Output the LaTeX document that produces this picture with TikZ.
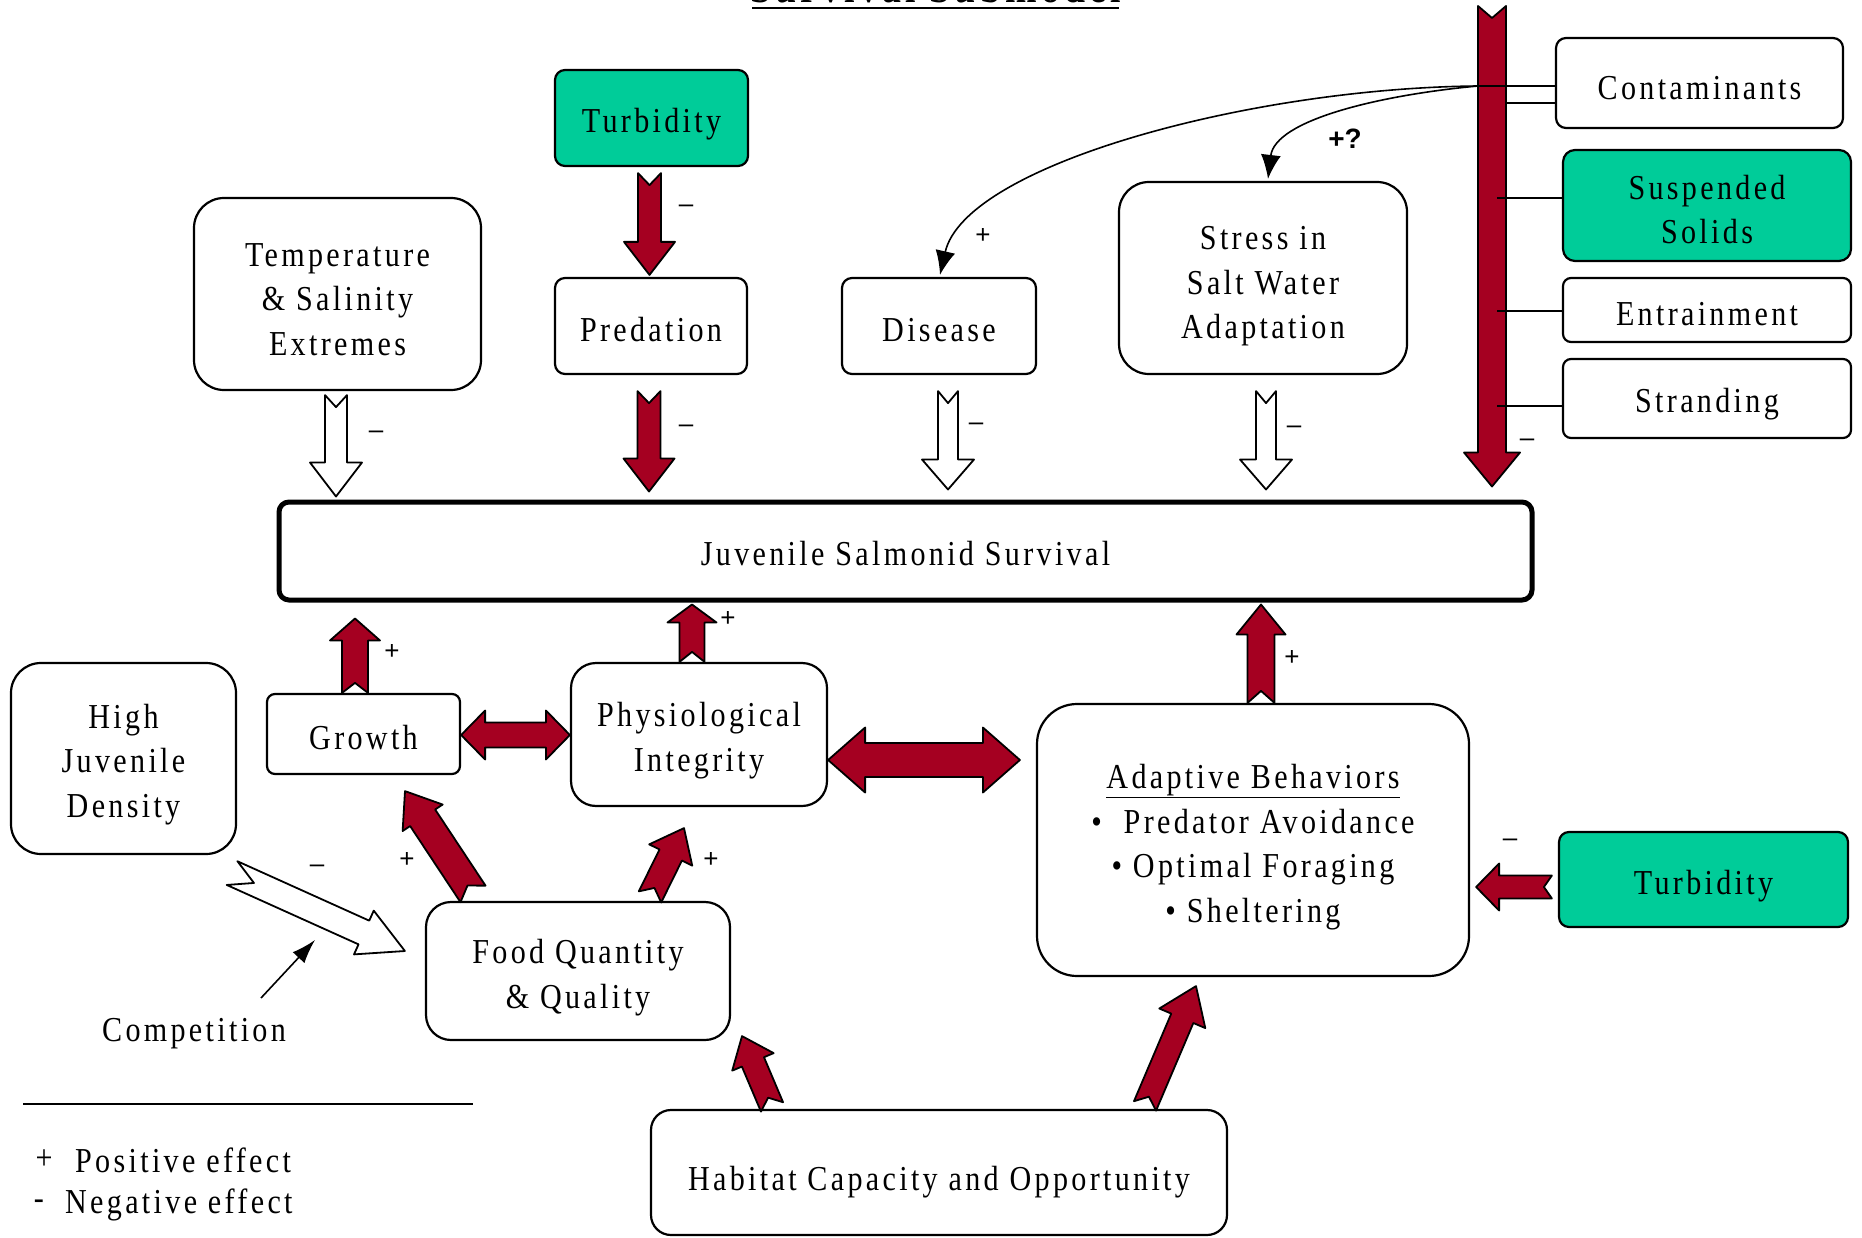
\documentclass[tikz,border=0pt]{standalone}
\usepackage{fontspec}
\setmainfont{Liberation Serif}[FakeStretch=0.86,LetterSpace=9.5]
\newfontfamily\signfont{Liberation Sans}
\usetikzlibrary{calc,arrows.meta}

\definecolor{arrowred}{RGB}{165,0,33}
\definecolor{tealgreen}{RGB}{0,204,153}

\newcommand\bxfont{\fontsize{35}{44.5}\selectfont}

% notched block arrow: style, tail, tip, half shaft, half head, head length, notch depth
\newcommand\blockarr[7]{%
  \coordinate (ba-a) at #2;
  \coordinate (ba-b) at #3;
  \coordinate (ba-h) at ($(ba-b)!#6pt!(ba-a)$);
  \draw[#1] ($(ba-a)!#4pt!90:(ba-b)$) -- ($(ba-h)!#4pt!-90:(ba-a)$)
    -- ($(ba-h)!#5pt!-90:(ba-a)$) -- (ba-b) -- ($(ba-h)!#5pt!90:(ba-a)$)
    -- ($(ba-h)!#4pt!90:(ba-a)$) -- ($(ba-a)!#4pt!-90:(ba-b)$)
    -- ($(ba-a)!#7pt!(ba-b)$) -- cycle;}

% two-headed block arrow: style, end, end, half shaft, half head, head length
\newcommand\dblarr[6]{%
  \coordinate (da-a) at #2;
  \coordinate (da-b) at #3;
  \coordinate (da-p) at ($(da-a)!#6pt!(da-b)$);
  \coordinate (da-q) at ($(da-b)!#6pt!(da-a)$);
  \draw[#1] (da-a) -- ($(da-p)!#5pt!90:(da-b)$) -- ($(da-p)!#4pt!90:(da-b)$)
    -- ($(da-q)!#4pt!-90:(da-a)$) -- ($(da-q)!#5pt!-90:(da-a)$) -- (da-b)
    -- ($(da-q)!#5pt!90:(da-a)$) -- ($(da-q)!#4pt!90:(da-a)$)
    -- ($(da-p)!#4pt!-90:(da-b)$) -- ($(da-p)!#5pt!-90:(da-b)$) -- cycle;}

\tikzset{
  cbox/.style={draw=black, line width=2.2pt, fill=white, rounded corners=#1,
    inner sep=0pt},
  cbox/.default=10pt,
  greenbox/.style={cbox=#1, fill=tealgreen},
  greenbox/.default=10pt,
  % box caption, set a little below the box centre
  boxtext/.style 2 args={label={[font=\bxfont, align=center, inner sep=0pt,
    yshift=-#1]center:#2}},
  redarr/.style={fill=arrowred, draw=black, line width=1.8pt, line join=round},
  whitearr/.style={fill=white, draw=black, line width=1.8pt, line join=round},
  sign/.style={font=\signfont\fontsize{26}{30}\selectfont, inner sep=0pt},
  plain/.style={font=\bxfont, inner sep=0pt},
  feed/.style={line width=1.6pt},
}

\begin{document}
\begin{tikzpicture}[x=1pt,y=-1pt]
\useasboundingbox (0,0) rectangle (1862,1238);

% heading (runs off the top edge)
\node[anchor=base, inner sep=0pt, font=\bfseries\fontsize{44}{50}\selectfont] (ttl) at (935.5,3) {Survival Submodel};
\coordinate (ulA) at (752,8);
\coordinate (ulB) at (1119,8);
\draw[line width=1.8pt] (ulA) -- (ulB);

% boxes
\node[greenbox, minimum width=193pt, minimum height=96pt, boxtext={6pt}{Turbidity}] (turbA) at (651.5,118) {};
\node[cbox=30pt, minimum width=287pt, minimum height=192pt, boxtext={5.5pt}{Temperature\\ \& Salinity\\ Extremes}] (temp) at (337.5,294) {};
\node[cbox, minimum width=192pt, minimum height=96pt, boxtext={4pt}{Predation}] (pred) at (651,326) {};
\node[cbox, minimum width=194pt, minimum height=96pt, boxtext={4pt}{Disease}] (dis) at (939,326) {};
\node[cbox=30pt, minimum width=288pt, minimum height=192pt, boxtext={8.5pt}{Stress in\\ Salt Water\\ Adaptation}] (stress) at (1263,278) {};
\node[cbox, minimum width=287pt, minimum height=90pt, boxtext={5pt}{Contaminants}] (cont) at (1699.5,83) {};
\node[greenbox=12pt, minimum width=288pt, minimum height=111pt, boxtext={4pt}{Suspended\\ Solids}] (susp) at (1707,205.5) {};
\node[cbox=8pt, minimum width=288pt, minimum height=64pt, boxtext={4pt}{Entrainment}] (entr) at (1707,310) {};
\node[cbox=8pt, minimum width=288pt, minimum height=79pt, boxtext={6pt}{Stranding}] (strand) at (1707,398.5) {};
\node[cbox=10pt, line width=5pt, minimum width=1253pt, minimum height=98pt, boxtext={2.5pt}{Juvenile Salmonid Survival}] (surv) at (905.5,551) {};
\node[cbox=30pt, minimum width=225pt, minimum height=191pt, boxtext={6pt}{High\\ Juvenile\\ Density}] (hjd) at (123.5,758.5) {};
\node[cbox=8pt, minimum width=193pt, minimum height=80pt, boxtext={3.5pt}{Growth}] (growth) at (363.5,734) {};
\node[cbox=25pt, minimum width=256pt, minimum height=143pt, boxtext={6pt}{Physiological\\ Integrity}] (phys) at (699,734.5) {};
\node[cbox=40pt, minimum width=432pt, minimum height=272pt, boxtext={7pt}{\underline{Adaptive Behaviors}\\ \textbullet\ \ Predator Avoidance\\ \textbullet\ Optimal Foraging\\ \textbullet\ Sheltering}] (ab) at (1253,840) {};
\node[greenbox, minimum width=289pt, minimum height=95pt, boxtext={7pt}{Turbidity}] (turbB) at (1703.5,879.5) {};
\node[cbox=25pt, minimum width=304pt, minimum height=138pt, boxtext={6.5pt}{Food Quantity\\ \& Quality}] (food) at (578,971) {};
\node[cbox=20pt, minimum width=576pt, minimum height=125pt, boxtext={9.5pt}{Habitat Capacity and Opportunity}] (hab) at (939,1172.5) {};

% arrows into survival from above
\blockarr{redarr}{($(turbA.south)+(-2,6)$)}{($(pred.north)+(-1.5,-2)$)}{11.5}{25.5}{33}{12}
\blockarr{redarr}{($(pred.south)+(-2,16)$)}{($(pred.south |- surv.north)+(-2,-8)$)}{11.5}{25.5}{33}{12}
\blockarr{whitearr}{($(temp.south)+(-1.5,4)$)}{($(temp.south |- surv.north)+(-1.5,-3)$)}{11}{26}{34}{12}
\blockarr{whitearr}{($(dis.south)+(9,16)$)}{($(dis.south |- surv.north)+(9,-10)$)}{10}{26}{30}{12}
\blockarr{whitearr}{($(stress.south)+(3,16)$)}{($(stress.south |- surv.north)+(3,-10)$)}{10}{26}{30}{12}

% long arrow from the hazards on the right
\coordinate (bigtop) at (1492,6);
\blockarr{redarr}{(bigtop)}{($(bigtop |- surv.north)+(0,-13)$)}{14}{28}{34}{12}

% ties from the hazard boxes to the long arrow
\coordinate (cj) at (1478,86);
\draw[feed] ($(cont.west)+(0,3)$) -- (cj);
\draw[feed] ($(cont.west)+(0,20)$) -- ($(cont.west)+(-50,20)$);
\draw[feed] ($(susp.west)+(0,-7.5)$) -- ($(susp.west)+(-65,-7.5)$);
\draw[feed] ($(entr.west)+(0,1)$) -- ($(entr.west)+(-65,1)$);
\draw[feed] ($(strand.west)+(0,7.5)$) -- ($(strand.west)+(-65,7.5)$);

% contaminant effects
\draw[feed, -{Latex[length=24pt,width=20pt]}] (cj) .. controls (1250,88) and (965,165) .. ($(dis.north)+(1,-2)$);
\draw[feed, -{Latex[length=24pt,width=20pt]}] (cj) .. controls (1380,95) and (1275,120) .. ($(stress.north)+(5,-2)$);

% arrows into survival from below
\blockarr{redarr}{($(growth.north)+(-8.5,0)$)}{($(growth.north |- surv.south)+(-8.5,16)$)}{13}{25}{22}{10}
\blockarr{redarr}{($(phys.north)+(-7,0)$)}{($(phys.north |- surv.south)+(-7,2)$)}{12.5}{24.5}{18}{10}
\blockarr{redarr}{($(ab.north)+(8,0)$)}{($(ab.north |- surv.south)+(8,2)$)}{13.5}{24.5}{30}{12}

% mutual links
\dblarr{redarr}{($(growth.east)+(0,1)$)}{($(phys.west |- growth.east)+(0,1)$)}{12.5}{24.5}{24}
\dblarr{redarr}{($(phys.east)+(0,25.5)$)}{($(ab.west |- phys.east)+(-16,25.5)$)}{17}{32.5}{37}

% food and habitat links
\blockarr{redarr}{($(food.north)+(-105,-7)$)}{($(growth.south)+(41.5,16)$)}{15}{24}{32}{10}
\blockarr{redarr}{($(food.north)+(72,-4)$)}{($(phys.south)+(-15,21)$)}{12.5}{24}{30}{10}
\blockarr{redarr}{($(hab.north)+(-167,-2)$)}{($(food.south)+(164,-5)$)}{12}{22.5}{28}{10}
\blockarr{redarr}{($(hab.north)+(206,-3)$)}{($(ab.south)+(-57,9)$)}{12}{25}{35}{10}
\blockarr{redarr}{($(turbB.west)+(-6,7.5)$)}{($(ab.east)+(6,47)$)}{11.5}{23.5}{23}{8}

% density pressure on food
\blockarr{whitearr}{($(hjd.south east)+(-5,18)$)}{($(food.west)+(-20,-20)$)}{13}{24}{45}{24}

% competition note
\node[plain] (comp) at (194,1034) {Competition};
\coordinate (cmpA) at (261,998);
\coordinate (cmpB) at (315,940);
\draw[feed, -{Latex[length=24pt,width=16pt]}] (cmpA) -- (cmpB);

% signs
\node[sign] (s1) at (686,209) {–};
\node[sign] (s2) at (686,429) {–};
\node[sign] (s3) at (376,435) {–};
\node[sign] (s4) at (976,427) {–};
\node[sign] (s5) at (1294,430) {–};
\node[sign] (s6) at (1527,443) {–};
\node[sign] (s7) at (983,236) {+};
\node[sign, font=\signfont\bfseries\fontsize{28}{32}\selectfont] (s8) at (1345,139) {+?};
\node[sign] (s9) at (392,652) {+};
\node[sign] (s10) at (728,619) {+};
\node[sign] (s11) at (1292,658) {+};
\node[sign] (s12) at (407,860) {+};
\node[sign] (s13) at (711,860) {+};
\node[sign] (s14) at (317,869) {–};
\node[sign] (s15) at (1510,843) {–};

% key
\coordinate (keyA) at (23,1104);
\coordinate (keyB) at (473,1104);
\draw[line width=2pt] (keyA) -- (keyB);
\node[plain] (kp) at (44,1160) {+};
\node[plain, anchor=west] (kpt) at (75,1160) {Positive effect};
\node[plain] (km) at (39,1205) {-};
\node[plain, anchor=west] (kmt) at (65,1205) {Negative effect};
\end{tikzpicture}
\end{document}
